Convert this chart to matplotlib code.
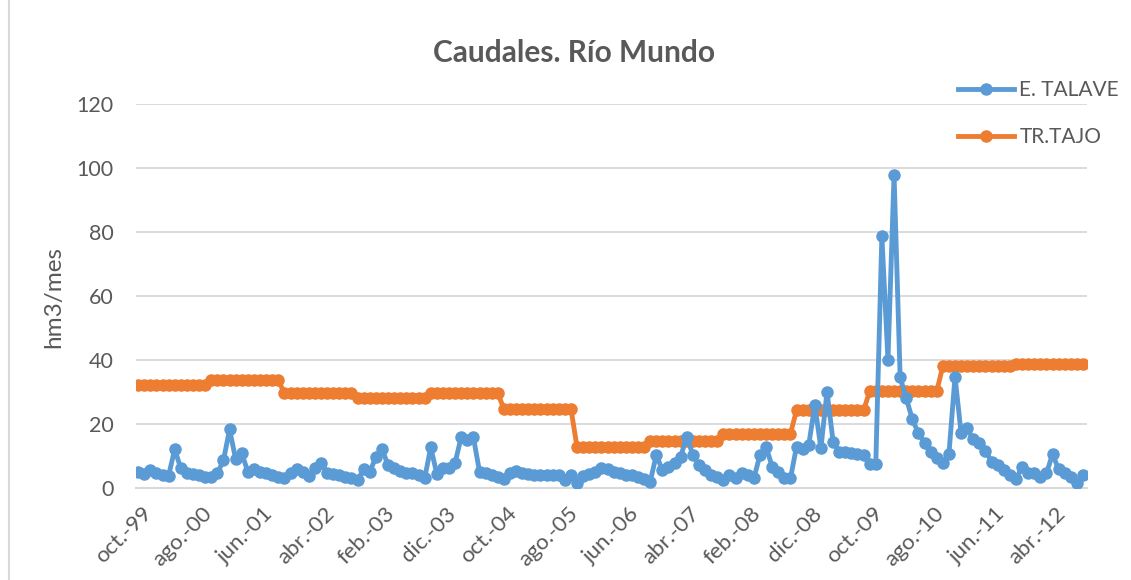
import matplotlib
matplotlib.use("Agg")
import matplotlib.pyplot as plt
from matplotlib.lines import Line2D
import matplotlib.transforms as mtransforms
import numpy as np

# ---- data (monthly, oct-99 .. sep-12) ----
talave = [
    5.1, 4.3, 5.6, 4.6, 4.1, 3.9, 12.1, 6.1, 4.6, 4.4, 4.1, 3.3,
    3.3, 4.6, 8.7, 18.3, 9.0, 10.8, 5.1, 6.0, 5.0, 4.6, 4.1, 3.5,
    3.0, 4.6, 5.8, 5.1, 3.8, 6.1, 7.9, 4.6, 4.4, 4.1, 3.5, 3.0,
    2.5, 5.8, 5.1, 9.6, 12.1, 7.2, 6.1, 5.4, 4.8, 4.6, 4.1, 3.0,
    12.7, 4.4, 6.1, 6.3, 7.9, 16.0, 15.0, 15.8, 5.1, 4.8, 4.1, 3.5,
    2.7, 4.6, 5.4, 4.6, 4.4, 4.2, 4.1, 4.1, 4.1, 4.1, 2.5, 4.1,
    1.7, 3.8, 4.4, 5.1, 6.1, 5.8, 4.9, 4.6, 4.1, 4.1, 3.5, 2.7,
    2.0, 10.3, 5.6, 6.5, 7.7, 9.8, 16.0, 10.3, 7.2, 5.6, 4.1, 3.3,
    2.5, 4.1, 3.0, 4.8, 4.1, 3.0, 10.3, 12.9, 6.7, 5.1, 3.0, 3.0,
    12.9, 12.3, 13.4, 25.9, 12.4, 30.1, 14.5, 11.4, 11.1, 10.8, 10.6, 10.3,
    7.5, 7.5, 78.7, 40.0, 97.8, 34.6, 28.0, 21.5, 17.1, 14.0, 11.4, 9.3,
    7.7, 10.6, 34.8, 17.1, 18.6, 15.2, 14.0, 11.7, 8.2, 7.2, 5.6, 4.1,
    2.7, 6.7, 4.8, 4.6, 3.5, 4.6, 10.6, 5.8, 4.6, 3.5, 1.7, 4.1,
]
tajo = [
    32.1, 32.1, 32.1, 32.1, 32.1, 32.1, 32.1, 32.1, 32.1, 32.1, 32.1, 32.1,
    33.6, 33.6, 33.6, 33.6, 33.6, 33.6, 33.6, 33.6, 33.6, 33.6, 33.6, 33.6,
    29.6, 29.6, 29.6, 29.6, 29.6, 29.6, 29.6, 29.6, 29.6, 29.6, 29.6, 29.6,
    28.0, 28.0, 28.0, 28.0, 28.0, 28.0, 28.0, 28.0, 28.0, 28.0, 28.0, 28.0,
    29.6, 29.6, 29.6, 29.6, 29.6, 29.6, 29.6, 29.6, 29.6, 29.6, 29.6, 29.6,
    24.7, 24.7, 24.7, 24.7, 24.7, 24.7, 24.7, 24.7, 24.7, 24.7, 24.7, 24.7,
    12.7, 12.7, 12.7, 12.7, 12.7, 12.7, 12.7, 12.7, 12.7, 12.7, 12.7, 12.7,
    14.7, 14.7, 14.7, 14.7, 14.7, 14.7, 14.7, 14.7, 14.7, 14.7, 14.7, 14.7,
    16.9, 16.9, 16.9, 16.9, 16.9, 16.9, 16.9, 16.9, 16.9, 16.9, 16.9, 16.9,
    24.3, 24.3, 24.3, 24.3, 24.3, 24.3, 24.3, 24.3, 24.3, 24.3, 24.3, 24.3,
    30.2, 30.2, 30.2, 30.2, 30.2, 30.2, 30.2, 30.2, 30.2, 30.2, 30.2, 30.2,
    38.1, 38.1, 38.1, 38.1, 38.1, 38.1, 38.1, 38.1, 38.1, 38.1, 38.1, 38.1,
    38.7, 38.7, 38.7, 38.7, 38.7, 38.7, 38.7, 38.7, 38.7, 38.7, 38.7, 38.7,
]
tick_labels = ["oct.-99", "ago.-00", "jun.-01", "abr.-02", "feb.-03", "dic.-03",
               "oct.-04", "ago.-05", "jun.-06", "abr.-07", "feb.-08", "dic.-08",
               "oct.-09", "ago.-10", "jun.-11", "abr.-12"]
tick_step = 10
series_names = ["E. TALAVE", "TR.TAJO"]
y_ticks = [0, 20, 40, 60, 80, 100, 120]

# ---- style ----
FONT = ["Lato", "DejaVu Sans"]
plt.rcParams["font.family"] = FONT
TXT = "#595959"
BLUE = "#5B9BD5"
ORANGE = "#ED7D31"
GRID = "#D9D9D9"

W, H = 1131, 580
fig = plt.figure(figsize=(W / 100, H / 100), dpi=100)
ax = fig.add_axes([136 / W, 1 - 488 / H, (1087 - 136) / W, (488 - 104) / H])

x = np.arange(len(talave))
ax.plot(x, talave, color=BLUE, lw=3.5, marker="o", ms=8, mec=BLUE, mfc=BLUE,
        label=series_names[0], zorder=3)
ax.plot(x, tajo, color=ORANGE, lw=3.5, marker="o", ms=8, mec=ORANGE, mfc=ORANGE,
        label=series_names[1], zorder=2)

ax.set_ylim(0, 120)
ax.set_xlim(-0.35, len(talave) - 1 + 0.65)
ax.set_yticks(y_ticks)
ax.yaxis.grid(True, color=GRID, lw=1.3)
ax.set_axisbelow(True)
for s in ["top", "right", "left"]:
    ax.spines[s].set_visible(False)
ax.spines["bottom"].set_color(GRID)
ax.spines["bottom"].set_linewidth(1.5)
ax.tick_params(axis="y", length=0, pad=16, labelsize=15.5, labelcolor=TXT)
ax.tick_params(axis="x", length=0, pad=11, labelsize=16, labelcolor=TXT)
ax.set_xticks(np.arange(0, len(talave), tick_step)[:len(tick_labels)])
ax.set_xticklabels(tick_labels, rotation=45, ha="right", va="top",
                   rotation_mode="anchor")
shift = mtransforms.ScaledTranslation(3 / 100, 0, fig.dpi_scale_trans)
for lbl in ax.get_xticklabels():
    lbl.set_transform(lbl.get_transform() + shift)

fig.text(54 / W, 1 - 297 / H, "hm3/mes", rotation=90, ha="center", va="center",
         fontsize=17.5, color=TXT)
fig.text(574 / W, 1 - 53 / H, "Caudales. Río Mundo", ha="center", va="center",
         fontsize=21.5, fontweight="bold", color=TXT)

handles = [Line2D([], [], color=BLUE, lw=3.5, marker="o", ms=8),
           Line2D([], [], color=ORANGE, lw=3.5, marker="o", ms=8)]
leg = fig.legend(handles, series_names, loc="center left",
                 bbox_to_anchor=(958 / W, 1 - 113.5 / H), frameon=False,
                 fontsize=15, handlelength=2.7, handletextpad=0.25,
                 labelspacing=1.3, borderpad=0, borderaxespad=0)
for t in leg.get_texts():
    t.set_color(TXT)

# chart outer border (left edge visible)
fig.add_artist(Line2D([8.5 / W, 8.5 / W], [0, 1], transform=fig.transFigure,
                      color="#D9D9D9", lw=1.5))

fig.savefig("out.png", dpi=100, facecolor="white")
